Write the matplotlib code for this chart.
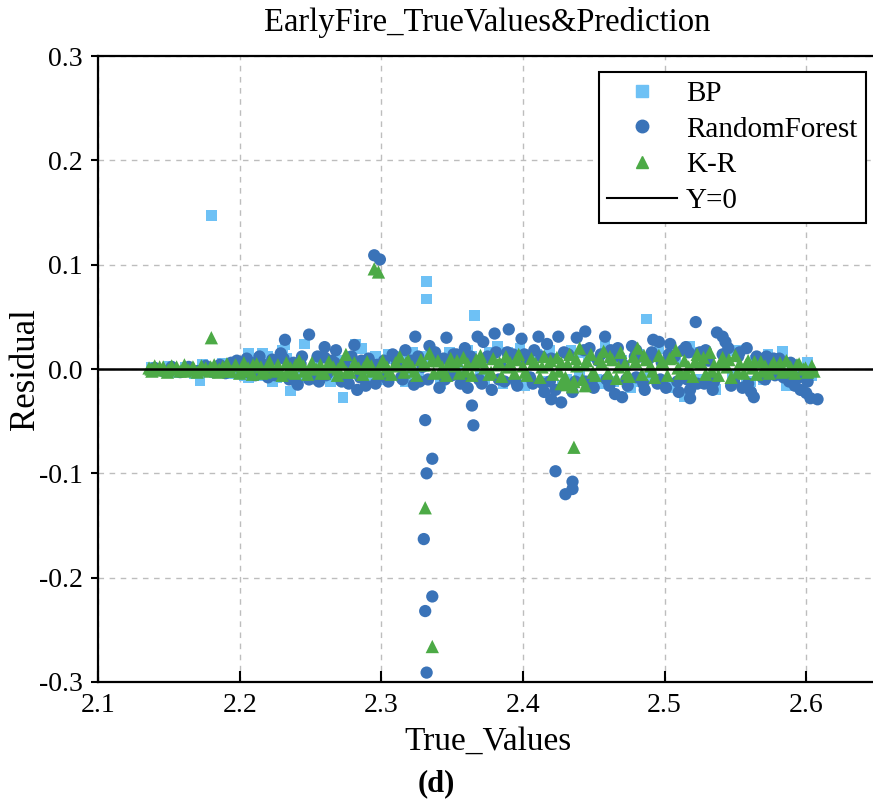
import matplotlib
matplotlib.use("Agg")
import matplotlib.pyplot as plt
from matplotlib.lines import Line2D

plt.rcParams["font.family"] = ["Liberation Serif", "DejaVu Serif"]
plt.rcParams["axes.unicode_minus"] = False

C_BP = "#6EC1F5"
C_RF = "#3A73B8"
C_KR = "#4CAA46"

# (true value, residual) pairs
bp = [
    (2.138, 0.002), (2.144, -0.002), (2.150, 0.003), (2.156, -0.003), (2.162, 0.002),
    (2.168, -0.004), (2.172, -0.011), (2.174, 0.004), (2.180, 0.147), (2.182, -0.003),
    (2.188, 0.005), (2.194, -0.004), (2.200, 0.006), (2.206, 0.015), (2.206, -0.008),
    (2.210, 0.010), (2.216, 0.015), (2.216, -0.006), (2.220, 0.012), (2.226, -0.008),
    (2.230, 0.018), (2.232, 0.023), (2.236, -0.021), (2.240, -0.014), (2.246, 0.024),
    (2.252, -0.006), (2.258, 0.012), (2.264, -0.012), (2.270, 0.008), (2.273, -0.027),
    (2.276, 0.004), (2.282, 0.024), (2.286, 0.020), (2.290, -0.008), (2.296, 0.012),
    (2.302, -0.010), (2.308, 0.010), (2.314, 0.012), (2.318, -0.006), (2.322, 0.016),
    (2.326, -0.004), (2.332, 0.084), (2.332, 0.067), (2.336, 0.008), (2.342, -0.014),
    (2.348, 0.016), (2.354, 0.004), (2.358, -0.010), (2.364, 0.012), (2.366, 0.051),
    (2.370, -0.006), (2.376, 0.016), (2.382, 0.022), (2.386, -0.014), (2.392, 0.012),
    (2.398, 0.020), (2.404, -0.008), (2.410, 0.014), (2.416, -0.012), (2.422, 0.010),
    (2.428, -0.016), (2.434, 0.018), (2.440, -0.006), (2.446, 0.012), (2.452, -0.010),
    (2.458, 0.022), (2.464, -0.012), (2.470, 0.008), (2.476, -0.018), (2.482, 0.014),
    (2.487, 0.048), (2.490, -0.008), (2.496, 0.020), (2.502, -0.014), (2.508, 0.010),
    (2.514, -0.026), (2.518, 0.022), (2.524, -0.010), (2.530, 0.014), (2.536, -0.020),
    (2.542, 0.012), (2.548, -0.006), (2.552, 0.018), (2.558, -0.014), (2.564, 0.008),
    (2.570, -0.010), (2.576, 0.006), (2.583, 0.017), (2.586, -0.016), (2.592, 0.004),
    (2.598, -0.004), (2.604, -0.006),
    (2.141, 0.000), (2.153, 0.001), (2.165, -0.001), (2.177, 0.002), (2.191, 0.002),
    (2.203, -0.006), (2.213, 0.006), (2.223, -0.012), (2.233, 0.010), (2.243, -0.008),
    (2.255, 0.008), (2.267, -0.010), (2.279, 0.012), (2.293, -0.006), (2.305, 0.014),
    (2.317, -0.012), (2.329, 0.012), (2.345, -0.008), (2.361, 0.018), (2.373, -0.012),
    (2.389, 0.016), (2.401, -0.016), (2.419, 0.018), (2.431, -0.010), (2.443, 0.016),
    (2.455, -0.014), (2.467, 0.018), (2.479, -0.012), (2.493, 0.016), (2.505, -0.018),
    (2.521, 0.016), (2.533, -0.012), (2.545, 0.018), (2.561, -0.012), (2.573, 0.014),
    (2.589, -0.010), (2.601, 0.006),
]

rf = [
    (2.140, 0.001), (2.146, -0.002), (2.152, 0.002), (2.158, -0.003), (2.164, 0.002),
    (2.170, -0.002), (2.176, 0.003), (2.182, -0.003), (2.186, 0.004), (2.190, -0.004),
    (2.194, 0.006), (2.198, 0.008), (2.202, -0.003), (2.205, 0.010), (2.208, 0.006),
    (2.211, -0.006), (2.214, 0.012), (2.217, 0.004), (2.220, -0.008), (2.223, 0.009),
    (2.226, -0.004), (2.229, 0.015), (2.232, 0.028), (2.235, -0.010), (2.238, 0.006),
    (2.241, -0.015), (2.244, 0.012), (2.249, 0.033), (2.250, -0.006), (2.253, -0.009),
    (2.256, -0.012), (2.260, 0.021), (2.260, 0.011), (2.262, -0.004), (2.265, 0.008),
    (2.268, 0.018), (2.272, -0.012), (2.274, 0.005), (2.277, -0.014), (2.281, 0.023),
    (2.283, -0.020), (2.286, 0.008), (2.289, -0.016), (2.292, 0.006), (2.295, 0.109),
    (2.299, 0.105), (2.296, -0.014), (2.302, 0.008), (2.305, -0.012), (2.308, 0.014),
    (2.311, 0.004), (2.314, -0.008), (2.317, 0.018), (2.320, 0.006), (2.323, -0.015),
    (2.324, 0.031), (2.326, 0.012), (2.329, 0.002), (2.330, -0.163), (2.331, -0.232),
    (2.332, -0.100), (2.332, -0.291), (2.331, -0.049), (2.334, 0.022), (2.336, -0.086),
    (2.336, -0.218), (2.333, -0.010), (2.338, 0.016), (2.341, -0.018), (2.344, 0.010),
    (2.346, 0.030), (2.350, -0.006), (2.353, 0.014), (2.356, -0.014), (2.359, 0.020),
    (2.361, -0.018), (2.364, -0.035), (2.365, -0.054), (2.366, 0.008), (2.368, 0.031),
    (2.369, -0.010), (2.372, 0.026), (2.375, 0.012), (2.378, -0.020), (2.380, 0.034),
    (2.381, 0.016), (2.384, 0.004), (2.387, -0.012), (2.390, 0.038), (2.393, 0.014),
    (2.396, -0.016), (2.399, 0.029), (2.402, 0.010), (2.405, -0.008), (2.408, 0.018),
    (2.411, 0.031), (2.414, -0.014), (2.415, -0.022), (2.417, 0.024), (2.420, 0.010),
    (2.420, -0.029), (2.423, -0.098), (2.430, -0.120), (2.435, -0.115), (2.435, -0.108),
    (2.423, -0.020), (2.425, 0.031), (2.427, -0.032), (2.432, 0.014), (2.435, -0.022),
    (2.438, 0.030), (2.444, 0.036), (2.444, -0.012), (2.447, 0.020), (2.450, -0.018),
    (2.453, 0.008), (2.458, 0.031), (2.459, -0.010), (2.462, 0.018), (2.465, -0.024),
    (2.468, 0.012), (2.470, -0.027), (2.471, 0.004), (2.474, -0.016), (2.477, 0.022),
    (2.480, 0.018), (2.480, -0.008), (2.483, 0.012), (2.486, -0.020), (2.489, 0.010),
    (2.492, 0.028), (2.496, 0.026), (2.495, -0.014), (2.498, 0.006), (2.501, -0.018),
    (2.504, 0.024), (2.507, 0.012), (2.510, -0.022), (2.513, 0.018), (2.515, 0.021),
    (2.516, -0.010), (2.518, -0.028), (2.518, -0.020), (2.522, 0.045), (2.525, 0.016),
    (2.528, -0.014), (2.531, 0.008), (2.534, -0.020), (2.537, 0.035), (2.541, 0.031),
    (2.543, 0.026), (2.545, 0.020), (2.549, -0.012), (2.552, 0.012), (2.555, -0.018),
    (2.558, 0.020), (2.563, -0.027), (2.561, -0.022), (2.566, 0.008), (2.569, -0.008),
    (2.572, 0.012), (2.575, 0.004), (2.578, -0.006), (2.581, 0.010), (2.584, -0.008),
    (2.588, -0.012), (2.592, -0.016), (2.596, -0.020), (2.600, -0.023), (2.603, -0.028),
    (2.608, -0.029),
    (2.201, 0.004), (2.207, -0.004), (2.213, 0.007), (2.219, 0.002), (2.225, -0.006),
    (2.231, 0.010), (2.237, -0.008), (2.243, 0.005), (2.249, -0.010), (2.255, 0.012),
    (2.261, -0.006), (2.267, 0.006), (2.273, -0.010), (2.279, 0.012), (2.285, -0.008),
    (2.291, 0.010), (2.297, 0.004), (2.303, -0.008), (2.309, 0.012), (2.315, -0.010),
    (2.321, 0.008), (2.327, -0.012), (2.339, 0.010), (2.345, -0.010), (2.351, 0.014),
    (2.357, -0.008), (2.363, 0.012), (2.371, -0.014), (2.377, 0.010), (2.383, -0.010),
    (2.389, 0.016), (2.395, -0.012), (2.401, 0.014), (2.407, -0.014), (2.413, 0.012),
    (2.419, -0.012), (2.429, 0.016), (2.437, -0.012), (2.443, 0.018), (2.449, -0.010),
    (2.455, 0.014), (2.461, -0.016), (2.467, 0.020), (2.473, -0.010), (2.479, 0.012),
    (2.485, -0.014), (2.491, 0.016), (2.497, -0.010), (2.503, 0.014), (2.509, -0.012),
    (2.517, 0.016), (2.523, -0.014), (2.529, 0.018), (2.535, -0.012), (2.541, 0.014),
    (2.547, -0.016), (2.553, 0.016), (2.559, -0.014), (2.565, 0.012), (2.571, -0.010),
    (2.577, 0.010), (2.583, -0.006), (2.589, 0.006), (2.595, -0.008), (2.601, -0.012),
]

kr = [
    (2.136, 0.001), (2.138, -0.002), (2.140, 0.003), (2.143, -0.001), (2.146, 0.002),
    (2.149, -0.003), (2.152, 0.003), (2.155, 0.000), (2.158, -0.002), (2.161, 0.004),
    (2.164, -0.001), (2.167, 0.002), (2.170, -0.003), (2.173, 0.003), (2.176, 0.001),
    (2.179, -0.002), (2.180, 0.030), (2.182, 0.004), (2.185, -0.003), (2.188, 0.002),
    (2.191, 0.005), (2.194, -0.002), (2.197, 0.004), (2.200, -0.004), (2.203, 0.006),
    (2.206, 0.001), (2.209, -0.005), (2.212, 0.005), (2.215, 0.002), (2.218, -0.003),
    (2.221, 0.007), (2.224, -0.002), (2.227, 0.004), (2.230, -0.006), (2.233, 0.006),
    (2.236, 0.001), (2.239, -0.004), (2.242, 0.008), (2.245, 0.003), (2.248, -0.005),
    (2.251, 0.006), (2.254, 0.000), (2.257, 0.004), (2.260, -0.004), (2.263, 0.007),
    (2.266, 0.002), (2.269, -0.006), (2.272, 0.005), (2.275, 0.014), (2.278, -0.003),
    (2.281, 0.006), (2.284, 0.001), (2.287, -0.005), (2.290, 0.007), (2.293, 0.003),
    (2.295, 0.096), (2.298, 0.093), (2.298, -0.004), (2.301, 0.008), (2.304, 0.002),
    (2.307, -0.005), (2.310, 0.006), (2.313, 0.012), (2.316, -0.003), (2.319, 0.008),
    (2.322, 0.002), (2.325, -0.006), (2.328, 0.009), (2.331, -0.133), (2.331, 0.004),
    (2.334, 0.015), (2.336, -0.266), (2.337, -0.004), (2.340, 0.008), (2.343, 0.002),
    (2.346, -0.006), (2.349, 0.010), (2.352, 0.003), (2.355, -0.004), (2.358, 0.011),
    (2.361, 0.005), (2.364, -0.006), (2.367, 0.009), (2.370, 0.013), (2.373, 0.001),
    (2.376, -0.005), (2.379, 0.010), (2.382, 0.004), (2.385, -0.007), (2.388, 0.012),
    (2.391, 0.006), (2.394, -0.004), (2.397, 0.014), (2.400, 0.003), (2.403, -0.006),
    (2.406, 0.010), (2.409, 0.005), (2.412, -0.008), (2.415, 0.012), (2.418, 0.004),
    (2.421, -0.005), (2.424, 0.011), (2.427, 0.006), (2.427, -0.014), (2.430, -0.008),
    (2.431, -0.015), (2.433, 0.014), (2.435, -0.017), (2.436, -0.075), (2.436, -0.012),
    (2.438, 0.003), (2.440, 0.020), (2.442, -0.010), (2.444, -0.016), (2.445, 0.008),
    (2.448, 0.014), (2.451, -0.006), (2.454, 0.010), (2.457, 0.017), (2.460, -0.004),
    (2.463, 0.009), (2.466, -0.009), (2.469, 0.016), (2.472, 0.005), (2.475, -0.007),
    (2.478, 0.012), (2.481, 0.020), (2.484, -0.005), (2.487, 0.009), (2.490, 0.003),
    (2.493, -0.008), (2.496, 0.013), (2.499, 0.006), (2.502, -0.006), (2.505, 0.011),
    (2.508, 0.018), (2.511, -0.004), (2.514, 0.008), (2.517, 0.002), (2.520, -0.007),
    (2.523, 0.014), (2.526, 0.006), (2.529, -0.005), (2.532, 0.016), (2.535, 0.004),
    (2.538, -0.006), (2.541, 0.011), (2.544, 0.002), (2.547, -0.008), (2.550, 0.013),
    (2.553, 0.005), (2.556, -0.004), (2.559, 0.008), (2.562, 0.001), (2.565, -0.005),
    (2.568, 0.007), (2.571, 0.003), (2.574, -0.004), (2.577, 0.006), (2.580, 0.001),
    (2.583, -0.003), (2.586, 0.008), (2.589, 0.002), (2.592, -0.004), (2.595, 0.005),
    (2.598, 0.000), (2.601, -0.003), (2.604, 0.003),
    (2.1375, 0.000), (2.1435, 0.002), (2.1495, -0.001), (2.1555, 0.002), (2.1615, -0.002),
    (2.1675, 0.001), (2.1735, -0.001), (2.1795, 0.002), (2.1855, 0.000), (2.1915, -0.002),
    (2.1975, 0.003), (2.2035, -0.002), (2.2095, 0.004), (2.2155, -0.004), (2.2215, 0.003),
    (2.2275, 0.000), (2.2335, -0.003), (2.2395, 0.004), (2.2455, -0.002), (2.2515, 0.002),
    (2.2575, -0.004), (2.2635, 0.003), (2.2695, 0.000), (2.2755, -0.003), (2.2815, 0.004),
    (2.2875, 0.001), (2.2935, -0.002), (2.2995, 0.004), (2.3055, -0.002), (2.3115, 0.003),
    (2.3175, 0.006), (2.3235, -0.002), (2.3295, 0.004), (2.3355, 0.008), (2.3415, -0.003),
    (2.3475, 0.005), (2.3535, 0.008), (2.3595, -0.002), (2.3655, 0.004), (2.3715, 0.007),
    (2.3775, -0.003), (2.3835, 0.006), (2.3895, 0.002), (2.3955, 0.009), (2.4015, -0.003),
    (2.4075, 0.006), (2.4135, 0.002), (2.4195, 0.008), (2.4255, -0.002), (2.4315, 0.005),
    (2.4375, 0.010), (2.4435, 0.004), (2.4495, -0.003), (2.4555, 0.006), (2.4615, 0.012),
    (2.4675, 0.002), (2.4735, -0.004), (2.4795, 0.007), (2.4855, 0.013), (2.4915, -0.002),
    (2.4975, 0.005), (2.5035, 0.010), (2.5095, 0.001), (2.5155, -0.004), (2.5215, 0.007),
    (2.5275, 0.011), (2.5335, -0.002), (2.5395, 0.005), (2.5455, 0.009), (2.5515, -0.003),
    (2.5575, 0.004), (2.5635, 0.007), (2.5695, -0.002), (2.5755, 0.003), (2.5815, 0.006),
    (2.5875, -0.002), (2.5935, 0.004), (2.5995, 0.001), (2.6055, -0.002),
]

x_ticks = [2.1, 2.2, 2.3, 2.4, 2.5, 2.6]
y_ticks = [-0.3, -0.2, -0.1, 0.0, 0.1, 0.2, 0.3]

fig = plt.figure(figsize=(8.73, 8.05), dpi=100)
ax = fig.add_axes([0.1123, 0.1528, 0.8923, 0.7776])

for data, col, mk, s, lab in [(bp, C_BP, "s", 60, "BP"),
                              (rf, C_RF, "o", 78, "RandomForest"),
                              (kr, C_KR, "^", 92, "K-R")]:
    xs = [p[0] for p in data]
    ys = [p[1] for p in data]
    ax.scatter(xs, ys, s=s, marker=mk, color=col, edgecolors="none", label=lab, zorder=3)

ax.axhline(0, color="black", lw=1.8, zorder=4)

ax.set_xlim(2.1, 2.65)
ax.set_ylim(-0.3, 0.3)
ax.set_xticks(x_ticks)
ax.set_yticks(y_ticks)
ax.set_yticklabels([f"{v:.1f}" for v in y_ticks])
ax.tick_params(axis="x", direction="in", length=8, width=1.5, labelsize=20, pad=8)
ax.tick_params(axis="y", direction="out", length=5, width=1.5, labelsize=20, pad=6)
ax.grid(True, color="#bdbdbd", ls=(0, (4, 4)), lw=1.0)
for s in ("top", "left", "bottom"):
    ax.spines[s].set_linewidth(1.6)
ax.spines["right"].set_visible(False)

ax.set_title("EarlyFire_TrueValues&Prediction", fontsize=23.5, pad=18)
ax.set_xlabel("True_Values", fontsize=24, labelpad=6)
ax.set_ylabel("Residual", fontsize=25, labelpad=-2)

handles = [
    Line2D([], [], ls="none", marker="s", color=C_BP, markersize=8),
    Line2D([], [], ls="none", marker="o", color=C_RF, markersize=9),
    Line2D([], [], ls="none", marker="^", color=C_KR, markersize=9),
    Line2D([], [], color="black", lw=1.5),
]
leg = ax.legend(handles, ["BP", "RandomForest", "K-R", "Y=0"], loc="upper right",
                bbox_to_anchor=(0.986, 0.975), fontsize=21, fancybox=False,
                edgecolor="black", framealpha=1, borderaxespad=0, handlelength=2.4,
                labelspacing=0.32, handletextpad=0.3, borderpad=0.3)
leg.get_frame().set_linewidth(1.5)

fig.text(0.5, 0.027, "(d)", ha="center", va="center", fontsize=22, fontweight="bold")

fig.savefig("out.png", dpi=100)
